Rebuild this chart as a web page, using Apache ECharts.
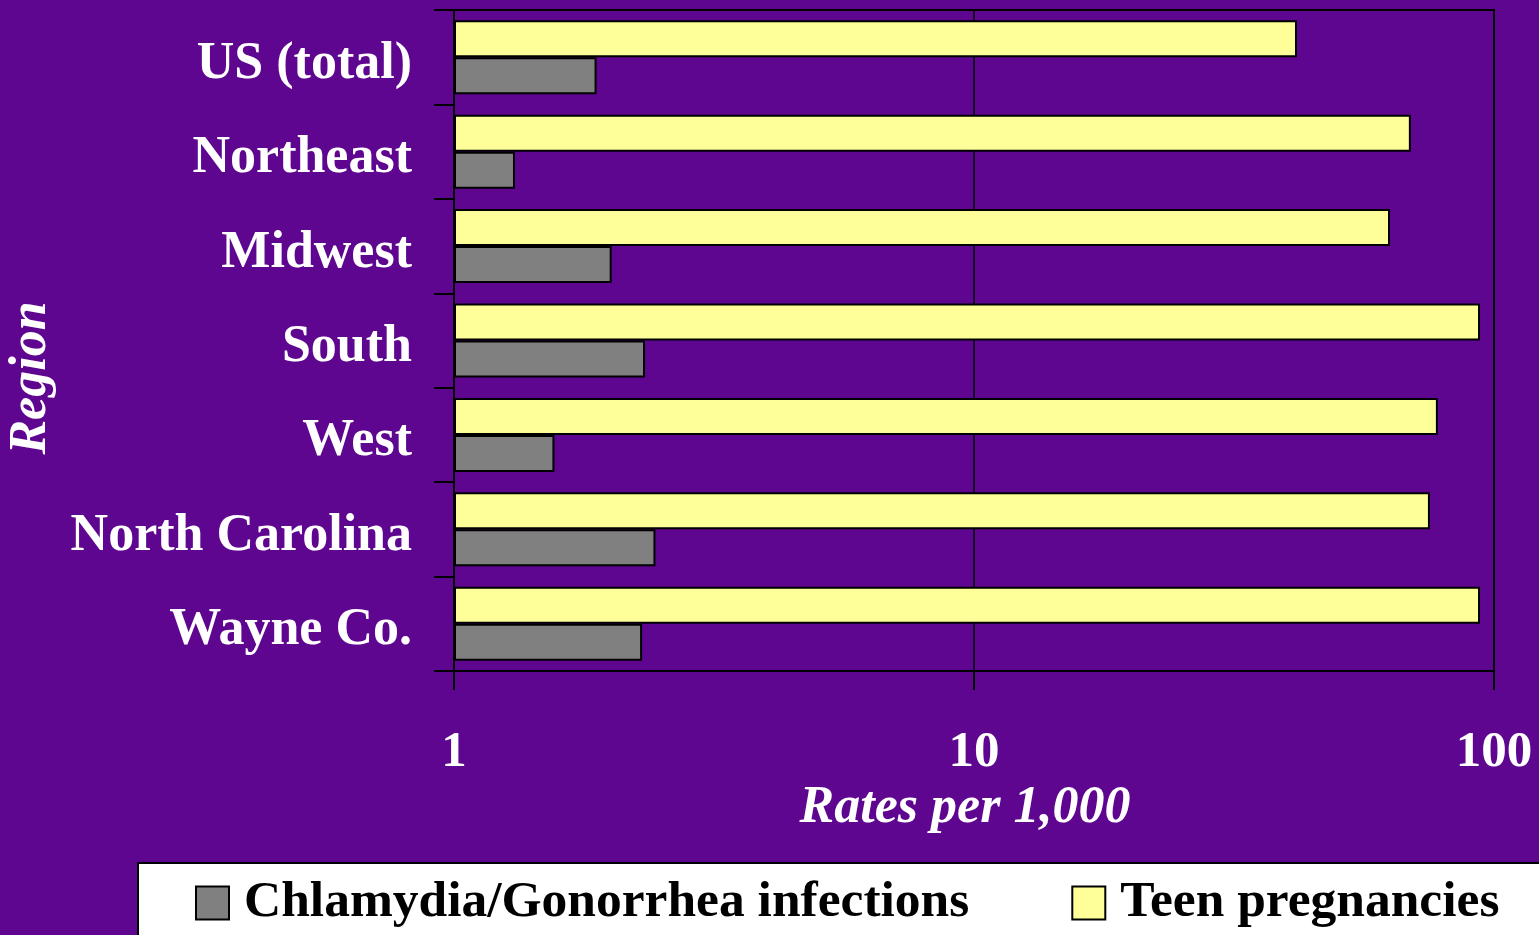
<!DOCTYPE html>
<html>
<head>
<meta charset="utf-8">
<script src="https://cdn.jsdelivr.net/npm/echarts@6/dist/echarts.min.js"></script>
<style>
html,body{margin:0;padding:0;background:#5E068F;}
#chart{width:1539px;height:935px;}
</style>
</head>
<body>
<div id="chart"></div>
<script>
const regions = ['US (total)', 'Northeast', 'Midwest', 'South', 'West', 'North Carolina', 'Wayne Co.'];
const chlamydiaRates = [1.88, 1.31, 2.01, 2.33, 1.56, 2.44, 2.30];
const teenPregnancyRates = [41.8, 69.2, 63.1, 94.0, 78.0, 75.3, 94.0];
const seriesNames = ['Chlamydia/Gonorrhea infections', 'Teen pregnancies'];
const xTicks = [1, 10, 100];

const FONT = '"Liberation Serif", "Times New Roman", serif';
const chart = echarts.init(document.getElementById('chart'), null, {renderer: 'canvas'});

chart.setOption({
  backgroundColor: '#5E068F',
  animation: false,
  grid: {
    left: 454, top: 10, right: 45, bottom: 264,
    show: true, borderColor: '#000', borderWidth: 2, backgroundColor: 'transparent'
  },
  legend: {
    data: seriesNames,
    left: 138, top: 863,
    width: 1600,
    orient: 'horizontal',
    padding: [14, 200, 30, 57],
    backgroundColor: '#fff',
    borderColor: '#000',
    borderWidth: 2,
    itemWidth: 33, itemHeight: 33,
    itemGap: 102,
    icon: 'rect',
    textStyle: {fontFamily: FONT, fontWeight: 'bold', fontSize: 51.5, color: '#000', padding: [0, 0, 0, 10]},
    itemStyle: {borderColor: '#000', borderWidth: 2}
  },
  xAxis: {
    type: 'log',
    logBase: 10,
    min: 1,
    max: 100,
    name: 'Rates per 1,000',
    nameLocation: 'middle',
    nameGap: 91,
    nameTextStyle: {fontFamily: FONT, fontWeight: 'bold', fontStyle: 'italic', fontSize: 52, color: '#fff', padding: [0, 18, 0, 0]},
    axisLine: {show: true, lineStyle: {color: '#000', width: 2}},
    axisTick: {show: true, inside: false, length: 19, lineStyle: {color: '#000', width: 2}},
    minorTick: {show: false},
    axisLabel: {
      fontFamily: FONT, fontWeight: 'bold', fontSize: 51, color: '#fff', margin: 56,
      formatter: function (v) { return xTicks.indexOf(Math.round(v)) >= 0 ? String(Math.round(v)) : ''; }
    },
    splitLine: {show: true, lineStyle: {color: '#000', width: 1.5}}
  },
  yAxis: {
    type: 'category',
    data: regions,
    inverse: true,
    axisLine: {show: true, lineStyle: {color: '#000', width: 2}},
    axisTick: {show: true, inside: false, length: 20, lineStyle: {color: '#000', width: 2}},
    axisLabel: {
      margin: 42,
      formatter: function (v) { return '{a|' + v + '}'; },
      rich: {
        a: {fontFamily: FONT, fontWeight: 'bold', fontSize: 52, color: '#fff', padding: [14, 0, 0, 0]}
      }
    },
    splitLine: {show: false}
  },
  graphic: [{
    type: 'text',
    x: 32, y: 378,
    rotation: Math.PI / 2,
    style: {
      text: 'Region',
      fontFamily: FONT, fontWeight: 'bold', fontStyle: 'italic', fontSize: 52,
      fill: '#fff', align: 'center', verticalAlign: 'middle'
    }
  }],
  series: [
    {
      name: seriesNames[1],
      type: 'bar',
      data: teenPregnancyRates,
      barWidth: 37,
      barGap: '0%',
      itemStyle: {color: '#FFFF99', borderColor: '#000', borderWidth: 2}
    },
    {
      name: seriesNames[0],
      type: 'bar',
      data: chlamydiaRates,
      barWidth: 37,
      barGap: '0%',
      itemStyle: {color: '#808080', borderColor: '#000', borderWidth: 2}
    }
  ]
});
</script>
</body>
</html>
